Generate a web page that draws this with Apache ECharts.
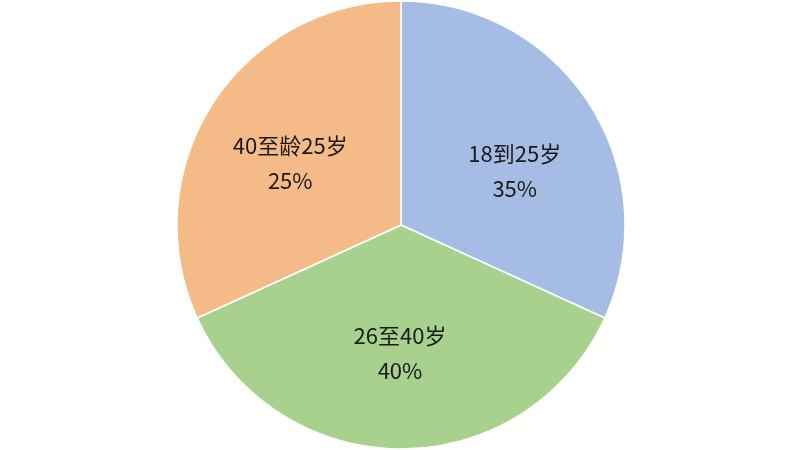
<!DOCTYPE html>
<html>
<head>
<meta charset="utf-8">
<script src="https://cdn.jsdelivr.net/npm/echarts@6/dist/echarts.min.js"></script>
<style>html,body{margin:0;padding:0;background:#fff;}#c{width:800px;height:450px;}</style>
</head>
<body>
<div id="c"></div>
<script>
const categories = ['18到25岁', '26至40岁', '40至龄25岁'];
const values = [35, 40, 35];
const labelPercents = ['35%', '40%', '25%'];
const colors = ['#A5BDE5', '#A9D18E', '#F4BA88'];
const offsets = [[17, 8], [-1, 13], [-14, 0]];

const chart = echarts.init(document.getElementById('c'));
chart.setOption({
  backgroundColor: '#ffffff',
  animation: false,
  series: [{
    type: 'pie',
    center: [401, 225],
    radius: 224,
    startAngle: 90,
    clockwise: true,
    avoidLabelOverlap: false,
    itemStyle: { borderColor: '#ffffff', borderWidth: 1.5 },
    label: {
      show: true,
      position: 'inside',
      color: '#1a1a1a',
      fontSize: 22,
      lineHeight: 35,
      fontFamily: 'Noto Sans CJK SC',
      formatter: function (p) { return p.name + '\n' + labelPercents[p.dataIndex]; }
    },
    labelLine: { show: false },
    emphasis: { disabled: true },
    data: categories.map(function (n, i) {
      return { name: n, value: values[i], itemStyle: { color: colors[i] }, label: { offset: offsets[i] } };
    })
  }]
});
</script>
</body>
</html>
